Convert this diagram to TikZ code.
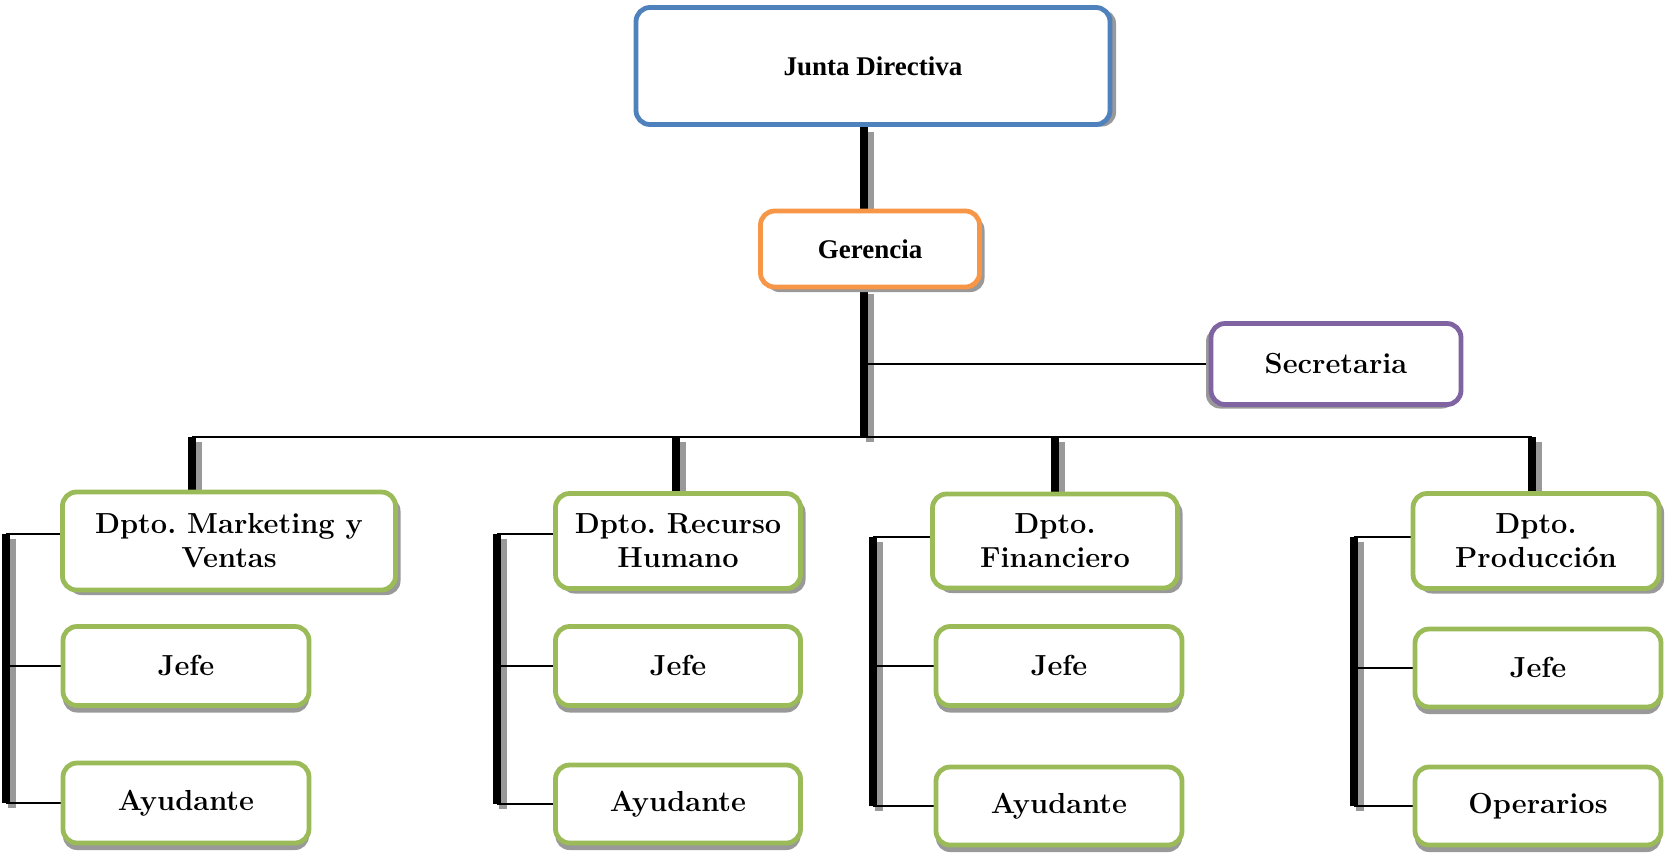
\documentclass[tikz,border=0pt]{standalone}
\usepackage{fontspec}
\newfontfamily\timesb{Liberation Serif}
\usetikzlibrary{shadows,backgrounds}
\definecolor{cblue}{HTML}{4F81BD}
\definecolor{corange}{HTML}{F79646}
\definecolor{cpurple}{HTML}{8064A2}
\definecolor{cgreen}{HTML}{9BBB59}
\frenchspacing
\begin{document}
\begin{tikzpicture}[x=0.5pt,y=-0.5pt,
  box/.style={draw, line width=2.4pt, rounded corners=7pt, fill=white, align=center, inner sep=2pt,
    font=\fontsize{14.5}{17}\selectfont\bfseries},
  tbox/.style={box, font=\fontsize{13.5}{16}\selectfont\timesb\bfseries},
  gbox/.style={box, draw=cgreen},
  shJ/.style={drop shadow={shadow xshift=3pt, shadow yshift=-1pt, fill=black!40, opacity=1}},
  shG/.style={drop shadow={shadow xshift=2.5pt, shadow yshift=-2.5pt, fill=black!40, opacity=1}},
  shS/.style={drop shadow={shadow xshift=-2.5pt, shadow yshift=-2pt, fill=black!40, opacity=1}},
  shD/.style={drop shadow={shadow xshift=2.5pt, shadow yshift=-2.5pt, fill=black!40, opacity=1}},
  shB/.style={drop shadow={shadow xshift=0pt, shadow yshift=-3.5pt, fill=black!40, opacity=1}},
  bar/.style={line width=4pt, draw=black},
  barsh/.style={line width=4pt, draw=black!40, transform canvas={xshift=3pt, yshift=-2.5pt}},
  conn/.style={line width=1pt, draw=black}
]
\useasboundingbox (0,0) rectangle (1666,859);

% top
\node[tbox, draw=cblue, shJ, minimum width=237pt, minimum height=58.5pt] (junta) at (873,66) {Junta Directiva};
\node[tbox, draw=corange, shG, minimum width=109.5pt, minimum height=38pt] (ger) at (870,249) {Gerencia};
\node[box, draw=cpurple, shS, minimum width=125pt, minimum height=40.5pt] (sec) at (1336,364) {Secretaria};

% departments
\node[gbox, shD, minimum width=166.5pt, minimum height=49pt] (d1) at (229,541) {Dpto. Marketing y\\Ventas};
\node[gbox, shD, minimum width=122.5pt, minimum height=47.5pt] (d2) at (678,541) {Dpto. Recurso\\Humano};
\node[gbox, shD, minimum width=122.5pt, minimum height=47pt] (d3) at (1055,541) {Dpto.\\Financiero};
\node[gbox, shD, minimum width=123pt, minimum height=47.5pt] (d4) at (1536,541) {Dpto.\\Producción};

% jefes
\node[gbox, shB, minimum width=123pt, minimum height=39.5pt] (j1) at (186,666) {Jefe};
\node[gbox, shB, minimum width=122.5pt, minimum height=39.5pt] (j2) at (678,666) {Jefe};
\node[gbox, shB, minimum width=123pt, minimum height=39.5pt] (j3) at (1059,666) {Jefe};
\node[gbox, shB, minimum width=123pt, minimum height=39pt] (j4) at (1538,668) {Jefe};

% ayudantes
\node[gbox, shB, minimum width=123pt, minimum height=40pt] (a1) at (186,803) {Ayudante};
\node[gbox, shB, minimum width=122.5pt, minimum height=39pt] (a2) at (678,804) {Ayudante};
\node[gbox, shB, minimum width=123pt, minimum height=39pt] (a3) at (1059,806) {Ayudante};
\node[gbox, shB, minimum width=123pt, minimum height=39pt] (a4) at (1538,806) {Operarios};

\begin{scope}[on background layer]
  \coordinate (tj) at (864,437);
  \coordinate (k1) at (192,437);
  \coordinate (k2) at (676,437);
  \coordinate (k3) at (1055,437);
  \coordinate (k4) at (1532,437);
  \coordinate (c1) at (6,534);
  \coordinate (c2) at (497,534);
  \coordinate (c3) at (873,537);
  \coordinate (c4) at (1354,537);

  % trunk
  \draw[barsh] (junta.south -| tj) -- (ger.north -| tj);
  \draw[barsh] (ger.south -| tj) -- (tj);
  \draw[bar] (junta.south -| tj) -- (ger.north -| tj);
  \draw[bar] (ger.south -| tj) -- (tj);

  % secretaria
  \draw[conn] (tj |- sec.west) -- (sec.west);

  % bus
  \draw[conn] (k1) -- (k4);

  % drops
  \foreach \k/\d in {k1/d1,k2/d2,k3/d3,k4/d4}{
    \draw[barsh] (\k) -- (\k |- \d.north);
    \draw[bar] (\k) -- (\k |- \d.north);
  }

  % column bars
  \foreach \c/\d/\j/\a in {c1/d1/j1/a1,c2/d2/j2/a2,c3/d3/j3/a3,c4/d4/j4/a4}{
    \draw[barsh] (\c) -- (\c |- \a.west);
    \draw[bar] (\c) -- (\c |- \a.west);
    \draw[conn] (\c) -- (\c -| \d.west);
    \draw[conn] (\c |- \j.west) -- (\j.west);
    \draw[conn] (\c |- \a.west) -- (\a.west);
  }
\end{scope}
\end{tikzpicture}
\end{document}
